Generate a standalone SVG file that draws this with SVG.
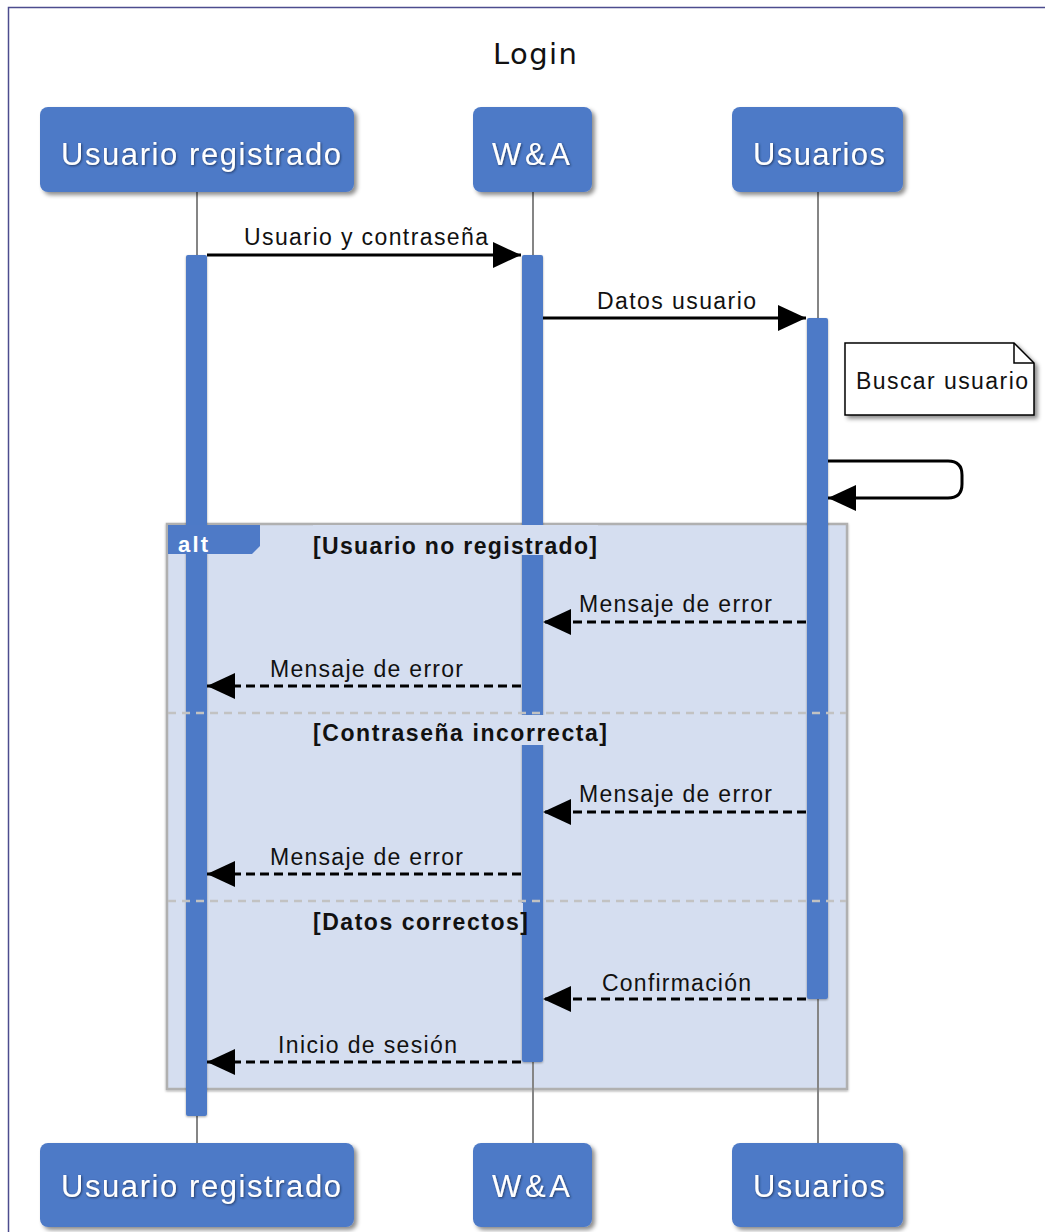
<svg xmlns="http://www.w3.org/2000/svg" width="1045" height="1232" viewBox="0 0 1045 1232">
  <style>
    .box { fill: #4e7ac7; }
    .ptext { fill: #ffffff; font-family: "Liberation Sans", Arial, sans-serif; font-size: 31px; }
    .life { stroke: #858585; stroke-width: 2; fill: none; }
    .bar { fill: #4e7ac7; }
    .msg { stroke: #000000; stroke-width: 3; fill: none; }
    .ret { stroke: #000000; stroke-width: 3; fill: none; stroke-dasharray: 9 5; }
    .label { fill: #111111; font-family: "Liberation Sans", Arial, sans-serif; font-size: 23px; }
    .guard { fill: #111111; font-family: "Liberation Sans", Arial, sans-serif; font-size: 23px; font-weight: bold; }
    .frame { fill: #d5def0; stroke: #b0b0b0; stroke-width: 2.5; }
    .divider { stroke: #c2c2c2; stroke-width: 2.5; stroke-dasharray: 8 6; }
    .guardbg { fill: #d5def0; }
  </style>
  <defs>
    <filter id="shadow" x="-10%" y="-10%" width="130%" height="140%">
      <feDropShadow dx="3" dy="3" stdDeviation="2" flood-color="#000" flood-opacity="0.45"/>
    </filter>
    <filter id="barShadow" x="-50%" y="-5%" width="200%" height="110%">
      <feDropShadow dx="0" dy="1" stdDeviation="1" flood-color="#000" flood-opacity="0.35"/>
    </filter>
    <filter id="glow" x="-5%" y="-20%" width="110%" height="150%">
      <feDropShadow dx="1" dy="1" stdDeviation="1" flood-color="#1a2a50" flood-opacity="0.8"/>
    </filter>
    <marker id="head" markerUnits="userSpaceOnUse" markerWidth="28" markerHeight="26" viewBox="0 0 28 26" refX="28" refY="13" orient="auto">
      <path d="M0,0 L28,13 L0,26 Z" fill="#000000"/>
    </marker>
  </defs>

  <!-- page -->
  <rect x="0" y="0" width="1045" height="1232" fill="#ffffff"/>
  <rect x="8.5" y="7.5" width="1100" height="1300" fill="none" stroke="#4c4c8e" stroke-width="1.5"/>

  <text x="493" y="64" font-family="'DejaVu Sans', 'Liberation Sans', sans-serif" font-size="29" fill="#111111" textLength="84" lengthAdjust="spacing">Login</text>

  <!-- alt fragment body -->
  <g id="alt-frame">
    <rect class="frame" x="167" y="524" width="680" height="565" filter="url(#barShadow)"/>
  </g>

  <!-- participants: head, tail and lifeline -->
  <g id="usuario-registrado">
    <line class="life" x1="197" y1="192" x2="197" y2="1143"/>
    <rect class="box" x="40" y="107" width="314" height="85" rx="8" filter="url(#shadow)"/>
    <text class="ptext" x="61" y="165" textLength="280" lengthAdjust="spacing" filter="url(#glow)">Usuario registrado</text>
    <rect class="box" x="40" y="1143" width="314" height="84" rx="8" filter="url(#shadow)"/>
    <text class="ptext" x="61" y="1197" textLength="280" lengthAdjust="spacing" filter="url(#glow)">Usuario registrado</text>
  </g>
  <g id="wya">
    <line class="life" x1="533" y1="192" x2="533" y2="1143"/>
    <rect class="box" x="473" y="107" width="119" height="85" rx="8" filter="url(#shadow)"/>
    <text class="ptext" x="492" y="165" textLength="78" lengthAdjust="spacing" filter="url(#glow)">W&amp;A</text>
    <rect class="box" x="473" y="1143" width="119" height="84" rx="8" filter="url(#shadow)"/>
    <text class="ptext" x="492" y="1197" textLength="78" lengthAdjust="spacing" filter="url(#glow)">W&amp;A</text>
  </g>
  <g id="usuarios">
    <line class="life" x1="818" y1="192" x2="818" y2="1143"/>
    <rect class="box" x="732" y="107" width="171" height="85" rx="8" filter="url(#shadow)"/>
    <text class="ptext" x="753" y="165" textLength="132" lengthAdjust="spacing" filter="url(#glow)">Usuarios</text>
    <rect class="box" x="732" y="1143" width="171" height="84" rx="8" filter="url(#shadow)"/>
    <text class="ptext" x="753" y="1197" textLength="132" lengthAdjust="spacing" filter="url(#glow)">Usuarios</text>
  </g>

  <!-- activation bars -->
  <g id="activations">
    <rect class="bar" x="186" y="255" width="21" height="861" rx="2" filter="url(#barShadow)"/>
    <rect class="bar" x="522" y="255" width="21" height="807" rx="2" filter="url(#barShadow)"/>
    <rect class="bar" x="807" y="318" width="21" height="681" rx="2" filter="url(#barShadow)"/>
  </g>

  <!-- note -->
  <g id="note-buscar">
    <path d="M845,343 H1014 L1034,363 V415 H845 Z" fill="#ffffff" stroke="#000000" stroke-width="1.5" filter="url(#shadow)"/>
    <path d="M1014,343 V363 H1034" fill="none" stroke="#000000" stroke-width="1.5"/>
    <text class="label" x="856" y="389" textLength="172" lengthAdjust="spacing">Buscar usuario</text>
  </g>

  <!-- messages -->
  <g id="connectors">
    <path class="msg" d="M207,255 H521" marker-end="url(#head)"/>
    <text class="label" x="244" y="245" textLength="244" lengthAdjust="spacing">Usuario y contraseña</text>

    <path class="msg" d="M543,318 H806" marker-end="url(#head)"/>
    <text class="label" x="597" y="309" textLength="159" lengthAdjust="spacing">Datos usuario</text>

    <path class="msg" d="M828,461 H948 Q962,461 962,475 V484 Q962,498 948,498 H828" marker-end="url(#head)"/>

    <path class="ret" d="M806,622 H543" marker-end="url(#head)"/>
    <text class="label" x="579" y="612" textLength="193" lengthAdjust="spacing">Mensaje de error</text>

    <path class="ret" d="M521,686 H207" marker-end="url(#head)"/>
    <text class="label" x="270" y="677" textLength="193" lengthAdjust="spacing">Mensaje de error</text>

    <path class="ret" d="M806,812 H543" marker-end="url(#head)"/>
    <text class="label" x="579" y="802" textLength="193" lengthAdjust="spacing">Mensaje de error</text>

    <path class="ret" d="M521,874 H207" marker-end="url(#head)"/>
    <text class="label" x="270" y="865" textLength="193" lengthAdjust="spacing">Mensaje de error</text>

    <path class="ret" d="M806,999 H543" marker-end="url(#head)"/>
    <text class="label" x="602" y="991" textLength="149" lengthAdjust="spacing">Confirmación</text>

    <path class="ret" d="M521,1062 H207" marker-end="url(#head)"/>
    <text class="label" x="278" y="1053" textLength="179" lengthAdjust="spacing">Inicio de sesión</text>
  </g>

  <!-- alt fragment header, guards and separators -->
  <g id="alt-frame-labels">
    <line class="divider" x1="168" y1="713" x2="846" y2="713"/>
    <line class="divider" x1="168" y1="901" x2="846" y2="901"/>
    <path d="M168,525 H260 V546 L252,554 H168 Z" fill="#4e7ac7"/>
    <text x="178" y="552" font-family="'Liberation Sans', Arial, sans-serif" font-size="22" font-weight="bold" fill="#ffffff" textLength="30" lengthAdjust="spacing">alt</text>
    <rect class="guardbg" x="313" y="525" width="285" height="30"/>
    <text class="guard" x="313" y="554" textLength="284" lengthAdjust="spacing">[Usuario no registrado]</text>
    <rect class="guardbg" x="313" y="715" width="294" height="30"/>
    <text class="guard" x="313" y="741" textLength="294" lengthAdjust="spacing">[Contraseña incorrecta]</text>
    <rect class="guardbg" x="313" y="903" width="210" height="30"/>
    <text class="guard" x="313" y="930" textLength="215" lengthAdjust="spacing">[Datos correctos]</text>
  </g>
</svg>
